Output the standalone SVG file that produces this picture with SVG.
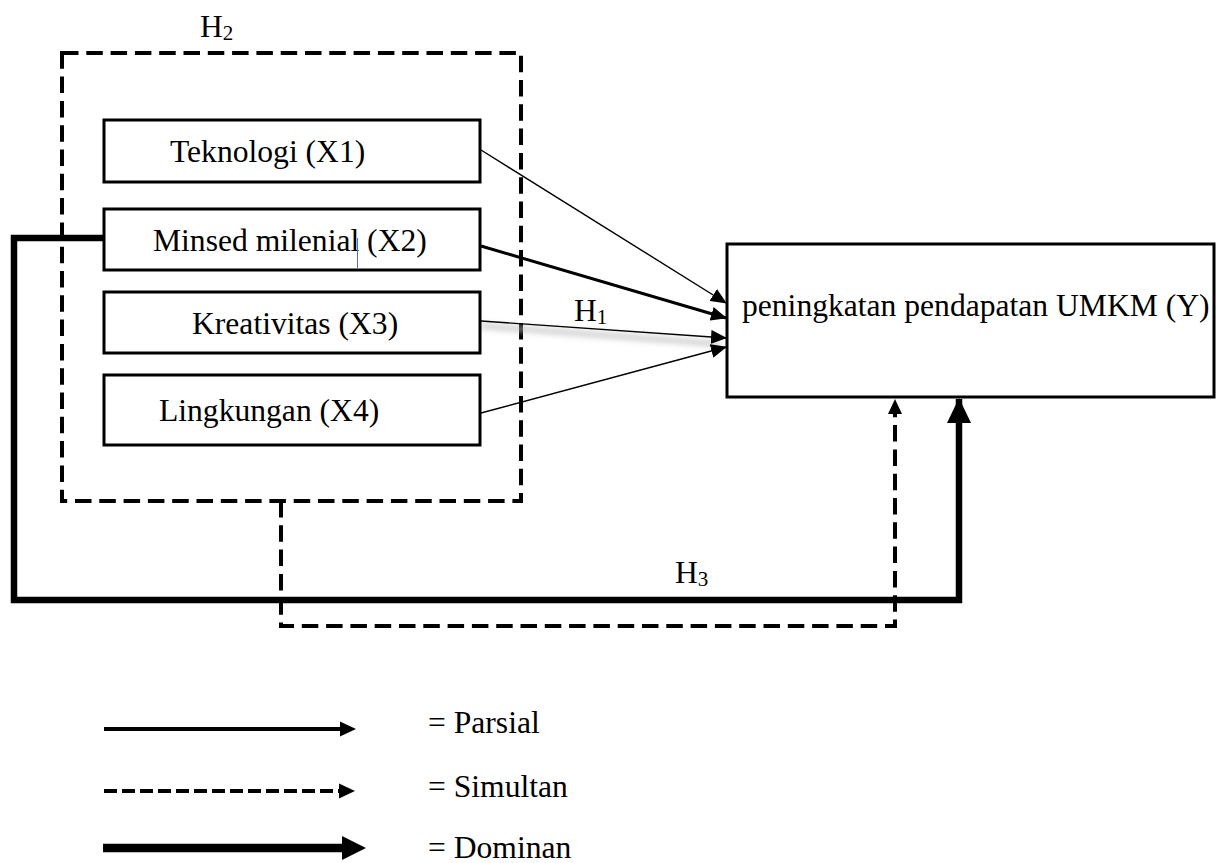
<svg xmlns="http://www.w3.org/2000/svg" width="1226" height="863" viewBox="0 0 1226 863">
<style>
text{font-family:"Liberation Serif","Times New Roman",serif;fill:#000;font-size:31.6px}
.sub{font-size:21px}
.box{fill:#fff;stroke:#000;stroke-width:3}
.dash{fill:none;stroke:#000;stroke-width:4;stroke-dasharray:16.5 7.8}
.thin{fill:none;stroke:#000;stroke-width:1.4}
.mid{fill:none;stroke:#000;stroke-width:3}
.thick{fill:none;stroke:#000;stroke-width:6.5}
.head{fill:#000}
</style>
<defs>
<marker id="ah" markerUnits="userSpaceOnUse" markerWidth="16" markerHeight="14" refX="15" refY="7" orient="auto"><path d="M0,0 L16,7 L0,14 Z" fill="#000"/></marker>
<marker id="ahBig" markerUnits="userSpaceOnUse" markerWidth="25" markerHeight="24" refX="24" refY="12" orient="auto"><path d="M0,0 L25,12 L0,24 Z" fill="#000"/></marker>
<filter id="blur" x="-10%" y="-200%" width="120%" height="500%"><feGaussianBlur stdDeviation="3"/></filter>
</defs>

<g id="h2-group">
<rect class="dash" x="62" y="53" width="459" height="448"/>
<text x="200" y="37">H<tspan class="sub" dy="3">2</tspan></text>
</g>

<g id="connectors">
<line x1="481" y1="326" x2="720" y2="344" stroke="#bbb" stroke-width="4" filter="url(#blur)"/>
<line class="thin" x1="481" y1="150" x2="726" y2="303" marker-end="url(#ah)"/>
<line class="mid" x1="481" y1="246" x2="726" y2="318" marker-end="url(#ah)"/>
<line class="thin" x1="481" y1="321" x2="726" y2="338" marker-end="url(#ah)"/>
<line class="thin" x1="481" y1="413" x2="726" y2="347" marker-end="url(#ah)"/>
<path class="thick" d="M104,238 H14 V600 H959 V399" marker-end="url(#ahBig)"/>
<path class="dash" d="M281,501 V626 H895 V412"/>
<path class="head" d="M888,414 L895,399 L902,414 Z"/>
<text x="574" y="321" font-size="29">H<tspan class="sub" dy="3">1</tspan></text>
<text x="675" y="583" font-size="29">H<tspan class="sub" dy="3">3</tspan></text>
</g>

<g id="x1">
<rect class="box" x="104" y="120" width="376" height="62"/>
<text x="170" y="162">Teknologi (X1)</text>
</g>
<g id="x2">
<rect class="box" x="104" y="209" width="376" height="61"/>
<text x="153" y="251">Minsed milenial (X2)</text>
<line x1="357.5" y1="238" x2="357.5" y2="268" stroke="#4a72c0" stroke-width="1"/>
</g>
<g id="x3">
<rect class="box" x="104" y="292" width="376" height="61"/>
<text x="192" y="334">Kreativitas (X3)</text>
</g>
<g id="x4">
<rect class="box" x="104" y="375" width="376" height="70"/>
<text x="159" y="421">Lingkungan (X4)</text>
</g>
<g id="y">
<rect class="box" x="727" y="244" width="487" height="153"/>
<text x="742" y="316">peningkatan pendapatan UMKM (Y)</text>
</g>

<g id="legend">
<line x1="104" y1="729" x2="342" y2="729" stroke="#000" stroke-width="4"/>
<path class="head" d="M340,721.5 L356,729 L340,736.5 Z"/>
<line x1="104" y1="791" x2="340" y2="791" stroke="#000" stroke-width="4" stroke-dasharray="13 5"/>
<path class="head" d="M339,783.5 L355,791 L339,798.5 Z"/>
<line x1="103" y1="848" x2="344" y2="848" stroke="#000" stroke-width="8.5"/>
<path class="head" d="M342,836 L366,848 L342,860 Z"/>
<text x="428" y="733">= Parsial</text>
<text x="428" y="797">= Simultan</text>
<text x="428" y="858">= Dominan</text>
</g>
</svg>
